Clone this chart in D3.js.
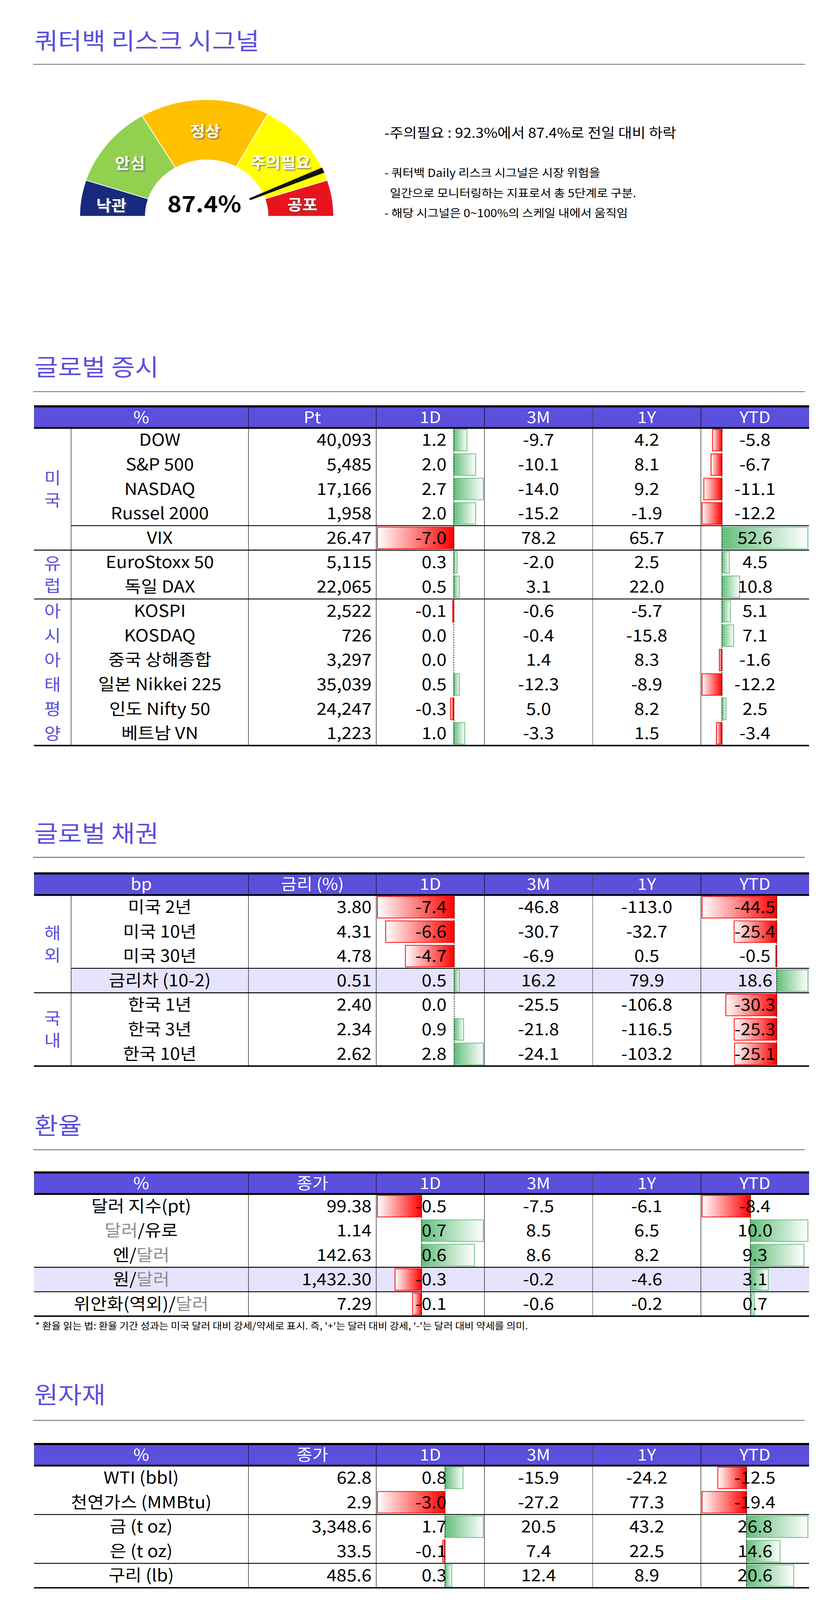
<!DOCTYPE html>
<html>
<head>
<meta charset="utf-8">
<script src="https://cdn.jsdelivr.net/npm/d3@7"></script>
<style>
  html, body { margin: 0; padding: 0; background: #fff; overflow: hidden; }
  #chart svg { display: block; }
  text { font-family: "Noto Sans CJK KR", "Noto Sans", sans-serif; }
</style>
</head>
<body>
<div id="chart"></div>
<script>
// ---------- gauge ----------
const signalValue = 87.4;
const gaugeLabels = ['낙관', '안심', '정상', '주의필요', '공포'];
const gaugeBreaks = [0, 10, 33, 66, 90, 100];   // % of the 0~100 scale
const gaugeColors = ['#172a7e', '#92d050', '#ffc000', '#ffff00', '#e8141b'];
const gaugeNotes = ['- 쿼터백 Daily 리스크 시그널은 시장 위험을', '  일간으로 모니터링하는 지표로서 총 5단계로 구분.', '- 해당 시그널은 0~100%의 스케일 내에서 움직임'];
const headline = '-주의필요 : 92.3%에서 87.4%로 전일 대비 하락';

// ---------- 글로벌 증시 ----------
const eqGroups = [['미국', 0, 4], ['유럽', 5, 6], ['아시아태평양', 7, 12]];
const eqNames = ['DOW', 'S&P 500', 'NASDAQ', 'Russel 2000', 'VIX', 'EuroStoxx 50', '독일 DAX', 'KOSPI', 'KOSDAQ', '중국 상해종합', '일본 Nikkei 225', '인도 Nifty 50', '베트남 VN'];
const eqClose = ['40,093', '5,485', '17,166', '1,958', '26.47', '5,115', '22,065', '2,522', '726', '3,297', '35,039', '24,247', '1,223'];
const eq1D = [1.2, 2.0, 2.7, 2.0, -7.0, 0.3, 0.5, -0.1, 0.0, 0.0, 0.5, -0.3, 1.0];
const eq3M = [-9.7, -10.1, -14.0, -15.2, 78.2, -2.0, 3.1, -0.6, -0.4, 1.4, -12.3, 5.0, -3.3];
const eq1Y = [4.2, 8.1, 9.2, -1.9, 65.7, 2.5, 22.0, -5.7, -15.8, 8.3, -8.9, 8.2, 1.5];
const eqYTD = [-5.8, -6.7, -11.1, -12.2, 52.6, 4.5, 10.8, 5.1, 7.1, -1.6, -12.2, 2.5, -3.4];

// ---------- 글로벌 채권 ----------
const bdGroups = [['해외', 0, 3], ['국내', 4, 6]];
const bdNames = ['미국 2년', '미국 10년', '미국 30년', '금리차 (10-2)', '한국 1년', '한국 3년', '한국 10년'];
const bdClose = ['3.80', '4.31', '4.78', '0.51', '2.40', '2.34', '2.62'];
const bd1D = [-7.4, -6.6, -4.7, 0.5, 0.0, 0.9, 2.8];
const bd3M = [-46.8, -30.7, -6.9, 16.2, -25.5, -21.8, -24.1];
const bd1Y = [-113.0, -32.7, 0.5, 79.9, -106.8, -116.5, -103.2];
const bdYTD = [-44.5, -25.4, -0.5, 18.6, -30.3, -25.3, -25.1];

// ---------- 환율 ([..] = 회색 글자) ----------
const fxNames = ['달러 지수(pt)', '[달러]/유로', '엔/[달러]', '원/[달러]', '위안화(역외)/[달러]'];
const fxClose = ['99.38', '1.14', '142.63', '1,432.30', '7.29'];
const fx1D = [-0.5, 0.7, 0.6, -0.3, -0.1];
const fx3M = [-7.5, 8.5, 8.6, -0.2, -0.6];
const fx1Y = [-6.1, 6.5, 8.2, -4.6, -0.2];
const fxYTD = [-8.4, 10.0, 9.3, 3.1, 0.7];
const fxNote = "* 환율 읽는 법: 환율 기간 성과는 미국 달러 대비 강세/약세로 표시. 즉, '+'는 달러 대비 강세, '-'는 달러 대비 약세를 의미.";

// ---------- 원자재 ----------
const cmNames = ['WTI (bbl)', '천연가스 (MMBtu)', '금 (t oz)', '은 (t oz)', '구리 (lb)'];
const cmClose = ['62.8', '2.9', '3,348.6', '33.5', '485.6'];
const cm1D = [0.8, -3.0, 1.7, -0.1, 0.3];
const cm3M = [-15.9, -27.2, 20.5, 7.4, 12.4];
const cm1Y = [-24.2, 77.3, 43.2, 22.5, 8.9];
const cmYTD = [-12.5, -19.4, 26.8, 14.6, 20.6];

const W = 2145, H = 4453;
const purple = '#5b4fdc', lavender = '#e6e4fc';
// drawn in 2145x4453 units, stretched to whatever the window really is
const svg = d3.select('#chart').append('svg')
  .attr('viewBox', `0 0 ${W} ${H}`).attr('preserveAspectRatio', 'none')
  .style('width', '100vw').style('height', '100vh');

const defs = svg.append('defs');
const gGreen = defs.append('linearGradient').attr('id', 'gGreen');
gGreen.append('stop').attr('offset', 0).attr('stop-color', '#63be7b');
gGreen.append('stop').attr('offset', 1).attr('stop-color', '#fff');
const gRed = defs.append('linearGradient').attr('id', 'gRed');
gRed.append('stop').attr('offset', 0).attr('stop-color', '#fff');
gRed.append('stop').attr('offset', 1).attr('stop-color', '#ff0000');
const shadow = defs.append('filter').attr('id', 'shadow');
shadow.append('feDropShadow').attr('dx', 3).attr('dy', 3).attr('stdDeviation', 2).attr('flood-color', '#555').attr('flood-opacity', 0.7);

function sectionTitle(label, y, lineY) {
  svg.append('text').attr('x', 88).attr('y', y).attr('font-size', 66).attr('fill', purple).text(label);
  svg.append('line').attr('x1', 85).attr('x2', 2060).attr('y1', lineY).attr('y2', lineY)
    .attr('stroke', '#555').attr('stroke-width', 2);
}

// ---------- gauge ----------
sectionTitle('쿼터백 리스크 시그널', 138, 179);
const gc = [529, 602], rOut = 325, rIn = 157;
const ang = d3.scaleLinear().domain([0, 100]).range([-Math.PI / 2, Math.PI / 2]);
const arc = d3.arc().innerRadius(rIn).outerRadius(rOut);
const gauge = svg.append('g').attr('transform', `translate(${gc})`);
gauge.selectAll('path.seg').data(gaugeColors).join('path').attr('class', 'seg')
  .attr('d', (c, i) => arc({ startAngle: ang(gaugeBreaks[i]), endAngle: ang(gaugeBreaks[i + 1]) }))
  .attr('fill', c => c).attr('stroke', '#fff').attr('stroke-width', 2);
// needle
const na = ang(signalValue);
gauge.append('path').attr('d', d3.arc().innerRadius(120).outerRadius(rOut)({ startAngle: na + 0.012, endAngle: na + 0.022 })).attr('fill', '#ffff00');
gauge.append('path').attr('d', d3.arc().innerRadius(120).outerRadius(rOut)({ startAngle: na - 0.035, endAngle: na + 0.012 })).attr('fill', '#111');
const labelPos = [[285, 572], [333, 455], [525, 365], [718, 452], [774, 570]];
svg.selectAll('text.glab').data(gaugeLabels).join('text').attr('class', 'glab')
  .attr('x', (d, i) => labelPos[i][0]).attr('y', (d, i) => labelPos[i][1] + 15)
  .attr('text-anchor', 'middle').attr('font-size', 42).attr('font-weight', 'bold')
  .attr('fill', '#fff').attr('filter', 'url(#shadow)').text(d => d);
svg.append('text').attr('x', 523).attr('y', 590).attr('text-anchor', 'middle')
  .attr('font-size', 62).attr('font-weight', 'bold').text(signalValue + '%');
svg.append('text').attr('x', 984).attr('y', 384).attr('font-size', 38).text(headline);
svg.selectAll('text.note').data(gaugeNotes).join('text').attr('class', 'note')
  .attr('x', 984).attr('y', (d, i) => [493, 549, 604][i]).attr('font-size', 31)
  .style('white-space', 'pre').text(d => d);

// ---------- tables ----------
const colX = [87, 182, 636, 963, 1240, 1517, 1794, 2071];
const rowH = 68, headH = 60;

function writeName(sel, s) {
  s.split(/(\[[^\]]*\])/).filter(p => p).forEach(p => {
    const gray = p.startsWith('[');
    sel.append('tspan').attr('fill', gray ? '#8c8c8c' : '#000').text(gray ? p.slice(1, -1) : p);
  });
}

function dataBars(g, vals, x0, x1, top) {
  const lo = Math.min(0, d3.min(vals)), hi = Math.max(0, d3.max(vals));
  const x = d3.scaleLinear().domain([lo, hi]).range([x0 + 3, x1 - 3]);
  g.selectAll(null).data(vals).join('rect')
    .attr('x', v => Math.min(x(v), x(0))).attr('width', v => Math.abs(x(v) - x(0)))
    .attr('y', (v, i) => top + i * rowH + 4).attr('height', rowH - 8)
    .attr('fill', v => v < 0 ? 'url(#gRed)' : 'url(#gGreen)')
    .attr('stroke', v => v < 0 ? '#ff0000' : '#63be7b').attr('stroke-width', 2)
    .attr('display', v => v === 0 ? 'none' : null);
  g.append('line').attr('x1', x(0)).attr('x2', x(0)).attr('y1', top).attr('y2', top + vals.length * rowH)
    .attr('stroke', '#000').attr('stroke-width', 1.5).attr('stroke-dasharray', '4,3');
}

function drawTable(opt) {
  const g = svg.append('g');
  const top = opt.top, body = top + headH, n = opt.names.length, bottom = body + n * rowH;
  const nameX0 = opt.groups ? colX[1] : colX[0];
  g.append('rect').attr('x', colX[0]).attr('y', top).attr('width', colX[7] - colX[0]).attr('height', headH).attr('fill', purple);
  (opt.highlight || []).forEach(([r, full]) => {
    g.append('rect').attr('x', full ? colX[0] : nameX0).attr('y', body + r * rowH)
      .attr('width', colX[7] - (full ? colX[0] : nameX0)).attr('height', rowH).attr('fill', lavender);
  });
  const headCx = [(colX[0] + colX[2]) / 2, (colX[2] + colX[3]) / 2, (colX[3] + colX[4]) / 2, (colX[4] + colX[5]) / 2, (colX[5] + colX[6]) / 2, (colX[6] + colX[7]) / 2];
  g.selectAll('text.head').data(opt.heads).join('text').attr('class', 'head')
    .attr('x', (d, i) => headCx[i]).attr('y', top + headH / 2 + 16).attr('text-anchor', 'middle')
    .attr('font-size', 44).attr('fill', '#fff').text(d => d);

  dataBars(g, opt.d1, colX[3], colX[4], body);
  dataBars(g, opt.ytd, colX[6], colX[7], body);

  // grid
  [2, 3, 4, 5, 6].forEach(c => {
    g.append('line').attr('x1', colX[c]).attr('x2', colX[c]).attr('y1', top).attr('y2', bottom)
      .attr('stroke', c === 5 ? '#444' : '#000').attr('stroke-width', 1.2);
  });
  if (opt.groups) g.append('line').attr('x1', colX[1]).attr('x2', colX[1]).attr('y1', body).attr('y2', bottom).attr('stroke', '#000').attr('stroke-width', 1.2);
  (opt.rules || []).forEach(([r, full]) => {
    const y = body + (r + 1) * rowH;
    g.append('line').attr('x1', full ? colX[0] : nameX0).attr('x2', colX[7]).attr('y1', y).attr('y2', y).attr('stroke', '#000').attr('stroke-width', 2.5);
  });
  [[top, 6], [body, 5], [bottom, 4]].forEach(([y, w]) => {
    g.append('line').attr('x1', colX[0]).attr('x2', colX[7]).attr('y1', y).attr('y2', y).attr('stroke', '#000').attr('stroke-width', w);
  });

  // group labels
  (opt.groups || []).forEach(([label, r0, r1]) => {
    const chars = label.split(''), step = chars.length > 2 ? rowH : 62;
    const cy = body + (r0 + r1 + 1) / 2 * rowH;
    chars.forEach((ch, k) => {
      g.append('text').attr('x', (colX[0] + colX[1]) / 2).attr('y', cy + (k - (chars.length - 1) / 2) * step + 17)
        .attr('text-anchor', 'middle').attr('font-size', 46).attr('fill', purple).text(ch);
    });
  });

  const ty = i => body + i * rowH + rowH / 2 + 16;
  const fmt = v => v.toFixed(1);
  opt.names.forEach((s, i) => {
    writeName(g.append('text').attr('x', (nameX0 + colX[2]) / 2).attr('y', ty(i)).attr('text-anchor', 'middle').attr('font-size', 46), s);
  });
  const cell = (vals, x, anchor, f) => g.selectAll(null).data(vals).join('text')
    .attr('x', x).attr('y', (d, i) => ty(i)).attr('text-anchor', anchor).attr('font-size', 46).text(f);
  cell(opt.close, colX[3] - 12, 'end', d => d);
  cell(opt.d1, colX[3] + 180, 'end', fmt);
  cell(opt.m3, (colX[4] + colX[5]) / 2, 'middle', fmt);
  cell(opt.y1, (colX[5] + colX[6]) / 2, 'middle', fmt);
  cell(opt.ytd, (colX[6] + colX[7]) / 2, 'middle', fmt);
}

sectionTitle('글로벌 증시', 1046, 1090);
drawTable({ top: 1131, heads: ['%', 'Pt', '1D', '3M', '1Y', 'YTD'], groups: eqGroups, names: eqNames, close: eqClose,
  d1: eq1D, m3: eq3M, y1: eq1Y, ytd: eqYTD, rules: [[3, false], [4, true], [6, true]] });

sectionTitle('글로벌 채권', 2344, 2386);
drawTable({ top: 2431, heads: ['bp', '금리 (%)', '1D', '3M', '1Y', 'YTD'], groups: bdGroups, names: bdNames, close: bdClose,
  d1: bd1D, m3: bd3M, y1: bd1Y, ytd: bdYTD, rules: [[2, false], [3, true]], highlight: [[3, false]] });

sectionTitle('환율', 3157, 3200);
drawTable({ top: 3263, heads: ['%', '종가', '1D', '3M', '1Y', 'YTD'], names: fxNames, close: fxClose,
  d1: fx1D, m3: fx3M, y1: fx1Y, ytd: fxYTD, rules: [[2, true], [3, true]], highlight: [[3, true]] });
svg.append('text').attr('x', 90).attr('y', 3700).attr('font-size', 26).text(fxNote);

sectionTitle('원자재', 3906, 3953);
drawTable({ top: 4019, heads: ['%', '종가', '1D', '3M', '1Y', 'YTD'], names: cmNames, close: cmClose,
  d1: cm1D, m3: cm3M, y1: cm1Y, ytd: cmYTD, rules: [[1, true], [3, true]] });
</script>
</body>
</html>
